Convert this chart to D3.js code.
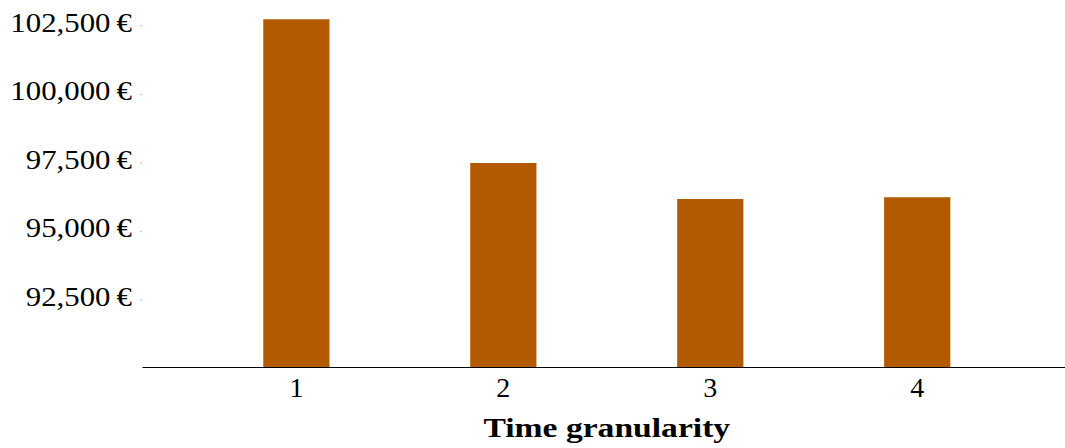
<!DOCTYPE html>
<html>
<head>
<meta charset="utf-8">
<script src="https://cdn.jsdelivr.net/npm/d3@7"></script>
<style>
  html, body { margin: 0; padding: 0; background: #fff; }
  svg { display: block; }
  text { font-family: "Liberation Serif", "DejaVu Serif", serif; fill: #000; }
</style>
</head>
<body>
<svg id="chart" width="1065" height="448"></svg>
<script>
const categories = ["1", "2", "3", "4"];
const values = [102720, 97475, 96160, 96225];
const yTickValues = [92500, 95000, 97500, 100000, 102500];
const xTitle = "Time granularity";

const W = 1065, H = 448;
const plotLeft = 142, plotRight = 1065;
const y0 = 367.8, yTop = 25.3;

const svg = d3.select("#chart");

const x = d3.scaleBand()
  .domain(categories)
  .range([plotLeft, plotRight])
  .paddingInner(0.68)
  .paddingOuter(0.57)
  .align(0.514);

const y = d3.scaleLinear()
  .domain([90000, 102500])
  .range([y0, yTop]);

function widen(sel, factor) {
  sel.each(function () {
    const len = this.getComputedTextLength();
    d3.select(this).attr("textLength", len * factor).attr("lengthAdjust", "spacingAndGlyphs");
  });
}

// bars
svg.append("g")
  .selectAll("rect")
  .data(categories.map((c, i) => ({ c, v: values[i] })))
  .join("rect")
  .attr("x", d => x(d.c))
  .attr("width", x.bandwidth())
  .attr("y", d => y(d.v))
  .attr("height", d => y0 - y(d.v))
  .attr("fill", "#b35900");

// y axis
const fmt = d3.format(",");
const yAxis = svg.append("g")
  .attr("transform", `translate(${plotLeft},0)`)
  .call(d3.axisLeft(y)
    .tickValues(yTickValues)
    .tickSize(2)
    .tickPadding(8)
    .tickFormat(d => fmt(d) + "\u2009€"));
yAxis.select(".domain").remove();
yAxis.selectAll(".tick line").attr("stroke", "#bbb").attr("stroke-width", 1);
yAxis.selectAll(".tick text")
  .attr("font-size", 28)
  .attr("dy", "0.22em")
  .style("font-family", "'Liberation Serif', serif")
  .call(widen, 1.1);

// x axis
const xAxis = svg.append("g")
  .attr("transform", `translate(0,367)`)
  .call(d3.axisBottom(x).tickSize(0).tickSizeOuter(0).tickPadding(10));
xAxis.select(".domain").attr("stroke", "#000").attr("stroke-width", 1);
xAxis.selectAll(".tick text")
  .attr("font-size", 28)
  .attr("dy", "0.71em")
  .style("font-family", "'Liberation Serif', serif");

// x title
svg.append("text")
  .attr("x", (x("1") + x("4") + x.bandwidth()) / 2)
  .attr("y", 437)
  .attr("text-anchor", "middle")
  .attr("font-size", 28)
  .attr("font-weight", "bold")
  .text(xTitle)
  .call(widen, 1.2);
</script>
</body>
</html>
